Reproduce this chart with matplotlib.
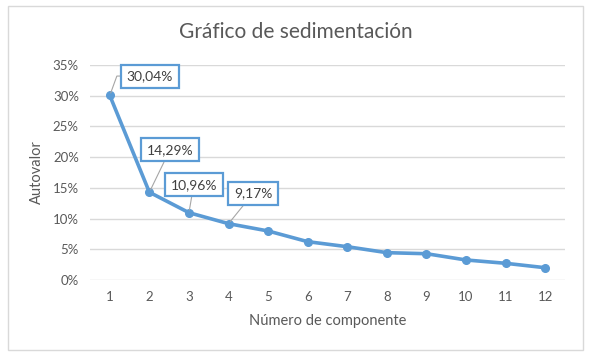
import matplotlib
matplotlib.use("Agg")
import matplotlib.pyplot as plt
from matplotlib.patches import Rectangle
from matplotlib.ticker import FuncFormatter

# datos
componentes = [1, 2, 3, 4, 5, 6, 7, 8, 9, 10, 11, 12]
autovalor = [30.04, 14.29, 10.96, 9.17, 7.98, 6.24, 5.42, 4.45, 4.28, 3.26, 2.72, 2.00]
etiquetados = [0, 1, 2, 3]  # indices con etiqueta
pos_etiquetas = [(2.01, 33.2), (2.52, 21.2), (3.12, 15.5), (4.62, 14.1)]
conexiones = ["angle,angleA=0,angleB=70,rad=0", "arc3", "arc3", "arc3"]
titulo = "Gráfico de sedimentación"
xlabel = "Número de componente"
ylabel = "Autovalor"

azul = "#5B9BD5"
gris_txt = "#595959"

plt.rcParams["font.family"] = ["Lato", "DejaVu Sans"]

fig = plt.figure(figsize=(5.95, 3.56), dpi=100)
ax = fig.add_axes([90 / 595, 76 / 356, 475 / 595, 215 / 356])

# marco del grafico
fig.patches.append(Rectangle((8 / 595, 6 / 356), 575 / 595, 344 / 356,
                             transform=fig.transFigure, fill=False,
                             edgecolor="#D9D9D9", lw=1))

ax.plot(componentes, autovalor, color=azul, lw=2.6, marker="o", ms=5.5,
        solid_capstyle="round", zorder=3)

for i, (tx, ty), con in zip(etiquetados, pos_etiquetas, conexiones):
    texto = f"{autovalor[i]:.2f}".replace(".", ",") + "%"
    ax.annotate(texto, xy=(componentes[i], autovalor[i]), xytext=(tx, ty),
                ha="center", va="center", fontsize=10, color="#404040",
                bbox=dict(boxstyle="square,pad=0.4", fc="white", ec=azul, lw=1.6),
                arrowprops=dict(arrowstyle="-", color="#A6A6A6", lw=0.8,
                                shrinkA=0, shrinkB=2, connectionstyle=con),
                zorder=4)

ax.set_xlim(0.5, 12.5)
ax.set_ylim(0, 35)
ax.set_xticks(componentes)
ax.set_yticks(range(0, 36, 5))
ax.yaxis.set_major_formatter(FuncFormatter(lambda v, p: f"{v:.0f}%"))
ax.grid(axis="y", color="#D9D9D9", lw=1)
ax.set_axisbelow(True)
for s in ax.spines.values():
    s.set_visible(False)
ax.tick_params(length=0, labelsize=9.5, colors=gris_txt, pad=8)

fig.text(296 / 595, 1 - 32 / 356, titulo, fontsize=15, color=gris_txt,
         ha="center", va="center")
ax.set_xlabel(xlabel, fontsize=10.5, color=gris_txt, labelpad=8)
ax.set_ylabel(ylabel, fontsize=10.5, color=gris_txt, labelpad=6)

fig.savefig("out.png", dpi=100)
